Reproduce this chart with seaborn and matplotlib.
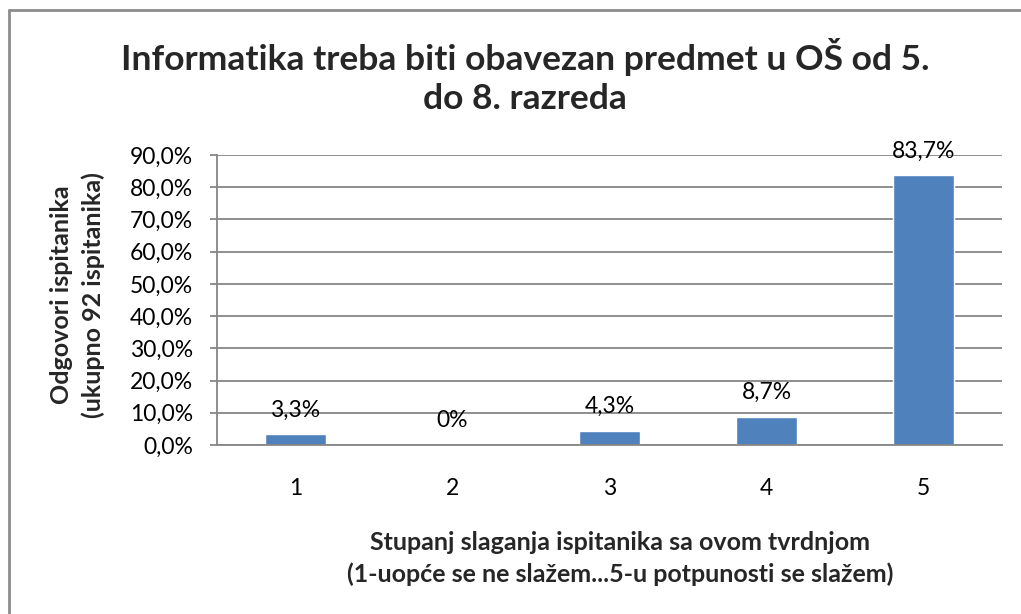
import matplotlib
matplotlib.use("Agg")
import matplotlib.pyplot as plt
import seaborn as sns
from matplotlib.lines import Line2D
from matplotlib.ticker import FuncFormatter

# Data
categories = ["1", "2", "3", "4", "5"]
percent_values = [3.3, 0.0, 4.3, 8.7, 83.7]
y_ticks = [0, 10, 20, 30, 40, 50, 60, 70, 80, 90]

title_text = "Informatika treba biti obavezan predmet u OŠ od 5.\ndo 8. razreda"
x_label = ("Stupanj slaganja ispitanika sa ovom tvrdnjom\n"
           "(1-uopće se ne slažem...5-u potpunosti se slažem)")
y_label = "Odgovori ispitanika\n(ukupno 92 ispitanika)"

BAR_COLOR = "#4F81BD"
GRID_COLOR = "#868686"


def pct_label(v):
    # Excel style: "0%" for zero, one decimal with comma otherwise
    if v == 0:
        return "0%"
    return ("%.1f%%" % v).replace(".", ",")


def main():
    sns.set_style("white")
    plt.rcParams["font.family"] = ["Lato", "DejaVu Sans"]

    fig = plt.figure(figsize=(10.21, 6.14), dpi=100)
    ax = fig.add_axes([0.2125, 0.2752, 0.7689, 0.4723])

    sns.barplot(x=categories, y=percent_values, color=BAR_COLOR,
                width=0.39, saturation=1, ax=ax)

    # Value labels above bars
    ax.bar_label(ax.containers[0],
                 labels=[pct_label(v) for v in percent_values],
                 padding=10, fontsize=16.5, color="black")

    ax.set_ylim(0, 90)
    ax.set_xlim(-0.5, 4.5)
    ax.set_yticks(y_ticks)
    ax.yaxis.set_major_formatter(
        FuncFormatter(lambda v, p: ("%.1f%%" % v).replace(".", ",")))

    ax.grid(axis="y", color=GRID_COLOR, linewidth=1.3)
    ax.set_axisbelow(True)
    for side in ["top", "right"]:
        ax.spines[side].set_visible(False)
    for side in ["left", "bottom"]:
        ax.spines[side].set_color(GRID_COLOR)
        ax.spines[side].set_linewidth(1.3)

    ax.tick_params(axis="y", length=5, width=1.3, color=GRID_COLOR,
                   pad=12, labelsize=16.5, labelcolor="black", left=True)
    ax.tick_params(axis="x", length=0, pad=24, labelsize=16.5,
                   labelcolor="black")
    ax.set_xlabel("")
    ax.set_ylabel("")

    # Title and axis titles
    fig.text(0.514, 0.875, title_text, ha="center", va="center",
             fontsize=25.5, fontweight="bold", linespacing=1.27)
    fig.text(0.607, 0.091, x_label, ha="center", va="center",
             fontsize=18, fontweight="bold", linespacing=1.42)
    fig.text(0.076, 0.52, y_label, ha="center", va="center",
             rotation=90, fontsize=18, fontweight="bold", linespacing=1.42)

    # Chart area border (left and top edges visible)
    fig.add_artist(Line2D([0.0093, 0.0093], [0.0, 0.9837],
                          transform=fig.transFigure, color="#8c8c8c", lw=2))
    fig.add_artist(Line2D([0.0093, 1.0], [0.9837, 0.9837],
                          transform=fig.transFigure, color="#8c8c8c", lw=2))

    fig.savefig("out.png", dpi=100)


if __name__ == "__main__":
    main()
